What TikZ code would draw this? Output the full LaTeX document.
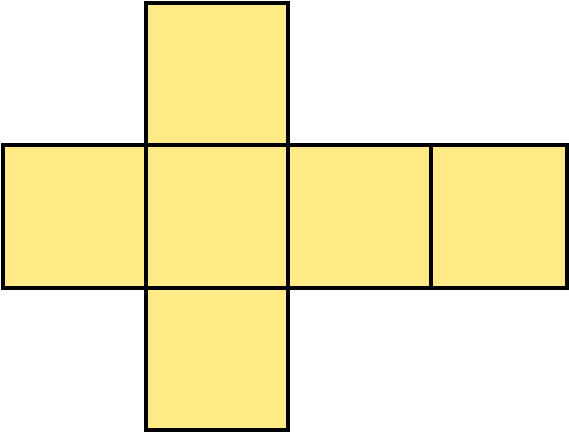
\documentclass[tikz,border=0pt]{standalone}
\usepackage{tikz}
\definecolor{netyellow}{RGB}{255,234,133}

\begin{document}
\begin{tikzpicture}[x=0.02cm,y=-0.02cm,
  face/.style={fill=netyellow,draw=black,line width=0.08cm}]
\useasboundingbox (0,0) rectangle (569,432);
\draw[face] (146,3) rectangle (288,145);
\draw[face] (3,145) rectangle (146,288);
\draw[face] (146,145) rectangle (288,288);
\draw[face] (288,145) rectangle (431,288);
\draw[face] (431,145) rectangle (567,288);
\draw[face] (146,288) rectangle (288,430);
\end{tikzpicture}
\end{document}
